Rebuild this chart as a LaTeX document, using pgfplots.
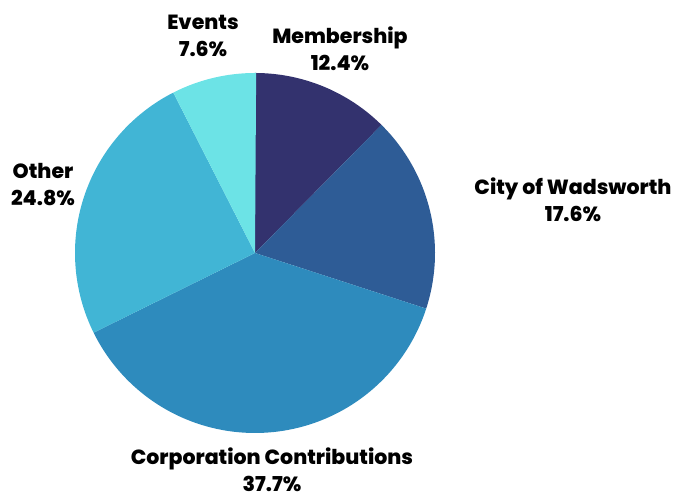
\documentclass[border=0pt]{standalone}
\usepackage{pgfplots}
\pgfplotsset{compat=1.18}
\usepackage{fontspec}
\setmainfont{Poppins}[BoldFont={Poppins ExtraBold}]
\definecolor{cMem}{HTML}{33326E}
\definecolor{cCity}{HTML}{2E5C96}
\definecolor{cCorp}{HTML}{2E8BBD}
\definecolor{cOther}{HTML}{41B5D5}
\definecolor{cEvents}{HTML}{6CE3E6}
% slice shares in percent, clockwise from the top
\def\pMem{12.4}
\def\pCity{17.6}
\def\pCorp{37.7}
\def\pOther{24.8}
\def\pEvents{7.6}
\pgfmathsetmacro\aA{90}
\pgfmathsetmacro\aB{\aA-3.6*\pMem}
\pgfmathsetmacro\aC{\aB-3.6*\pCity}
\pgfmathsetmacro\aD{\aC-3.6*\pCorp}
\pgfmathsetmacro\aE{\aD-3.6*\pOther}
\pgfmathsetmacro\aF{\aE-3.6*\pEvents}
\begin{document}
\begin{tikzpicture}[x=1bp,y=1bp]
\useasboundingbox (0,0) rectangle (677,495);
\begin{axis}[
  at={(255bp,242bp)}, anchor=center,
  scale only axis, width=360bp, height=360bp,
  xmin=-1, xmax=1, ymin=-1, ymax=1,
  hide axis, clip=false]
\addplot[fill=cMem, draw=none, domain=\aB:\aA, samples=60] ({cos(x)},{sin(x)}) -- (axis cs:0,0) -- cycle;
\addplot[fill=cCity, draw=none, domain=\aC:\aB, samples=60] ({cos(x)},{sin(x)}) -- (axis cs:0,0) -- cycle;
\addplot[fill=cCorp, draw=none, domain=\aD:\aC, samples=120] ({cos(x)},{sin(x)}) -- (axis cs:0,0) -- cycle;
\addplot[fill=cOther, draw=none, domain=\aE:\aD, samples=80] ({cos(x)},{sin(x)}) -- (axis cs:0,0) -- cycle;
\addplot[fill=cEvents, draw=none, domain=\aF:\aE, samples=40] ({cos(x)},{sin(x)}) -- (axis cs:0,0) -- cycle;
\end{axis}
\tikzset{lab/.style={font=\fontsize{20.5bp}{27bp}\selectfont\bfseries, align=center, text=black, inner sep=0pt}}
\node[lab] at (203,459) {Events\\7.6\%};
\node[lab] at (340,446) {Membership\\12.4\%};
\node[lab] at (573,295) {City of Wadsworth\\17.6\%};
\node[lab] at (43,310) {Other\\24.8\%};
\node[lab, anchor=south] at (272,3) {Corporation Contributions\\37.7\%};
\end{tikzpicture}
\end{document}
